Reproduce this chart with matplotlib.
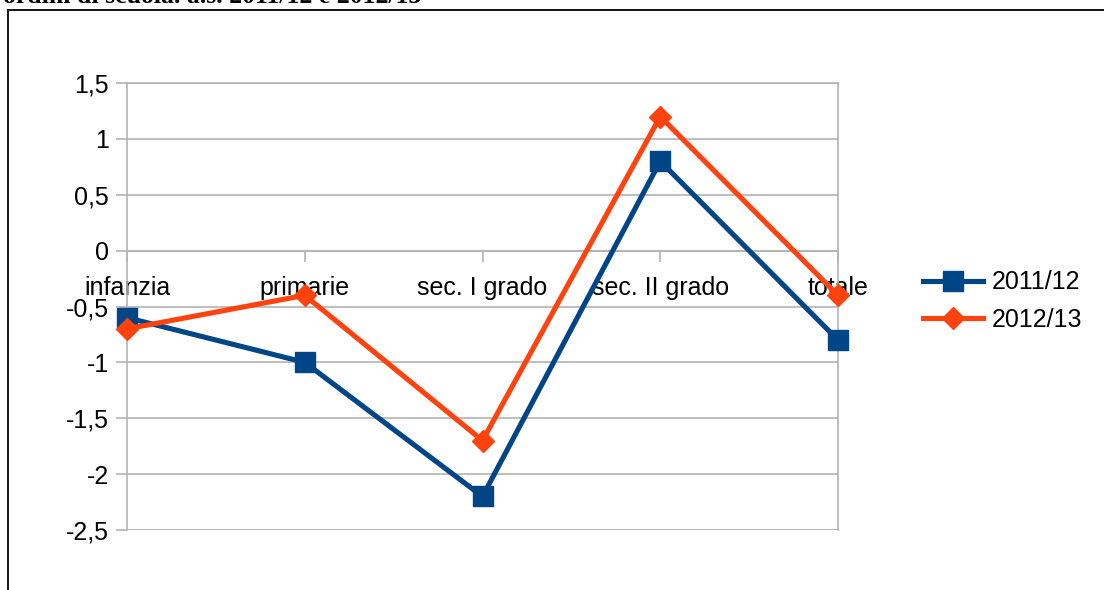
import matplotlib.pyplot as plt
from matplotlib.lines import Line2D
from matplotlib.ticker import FuncFormatter

plt.rcParams['font.family'] = ['Liberation Sans', 'DejaVu Sans']

categories = ["infanzia", "primarie", "sec. I grado", "sec. II grado", "totale"]
series_names = ["2011/12", "2012/13"]
values_2011 = [-0.6, -1.0, -2.2, 0.8, -0.8]
values_2012 = [-0.7, -0.4, -1.7, 1.2, -0.4]
y_ticks = [-2.5, -2, -1.5, -1, -0.5, 0, 0.5, 1, 1.5]

blue = "#004586"
orange = "#ff420e"
grid = "#b3b3b3"

fig = plt.figure(figsize=(11.04, 5.9), dpi=100)
ax = fig.add_axes([127 / 1104, 1 - 530 / 590, (838 - 127) / 1104, (530 - 83) / 590])

# cut-off caption of the page above the chart (only its lower edge shows)
cap = fig.add_axes([0, 1 - 4 / 590, 0.6, 4 / 590])
cap.axis("off")
cap.text(0.005, 0.2, "ordini di scuola. a.s. 2011/12 e 2012/13",
         family="Liberation Serif", weight="bold", fontsize=18.5,
         va="baseline", ha="left", transform=cap.transAxes, clip_on=True)

# outer frame (extends past right/bottom edges)
fig.add_artist(Line2D([8 / 1104, 1.01], [1 - 10 / 590] * 2, color="black", lw=1.3,
                      transform=fig.transFigure))
fig.add_artist(Line2D([8 / 1104] * 2, [-0.01, 1 - 10 / 590], color="black", lw=1.3,
                      transform=fig.transFigure))

x = range(len(categories))
ax.plot(x, values_2011, color=blue, lw=3.7, marker="s", ms=14, label=series_names[0],
        solid_joinstyle="miter", zorder=3, clip_on=False)
ax.plot(x, values_2012, color=orange, lw=3.7, marker="D", ms=11, label=series_names[1],
        solid_joinstyle="miter", zorder=4, clip_on=False)

ax.set_xlim(0, len(categories) - 1)
ax.set_ylim(-2.5, 1.5)
ax.set_yticks(y_ticks)
ax.yaxis.set_major_formatter(FuncFormatter(lambda v, p: f"{v:g}".replace(".", ",")))
ax.yaxis.grid(True, color=grid, lw=1.2)
ax.set_axisbelow(True)

for s in ["left", "right", "top"]:
    ax.spines[s].set_color(grid)
    ax.spines[s].set_linewidth(1.2)
ax.spines["bottom"].set_position(("data", 0))
ax.spines["bottom"].set_color(grid)
ax.spines["bottom"].set_linewidth(1.2)
# bottom frame line at -2.5
ax.axhline(-2.5, color=grid, lw=1.2, zorder=0)

ax.set_xticks(list(x))
ax.set_xticklabels(categories, fontsize=18)
ax.tick_params(axis="x", direction="out", length=8, color=grid, width=1.2, pad=10)
ax.tick_params(axis="y", direction="out", length=8, color=grid, width=1.2, labelsize=18, pad=5)
for lab in ax.get_xticklabels():
    lab.set_zorder(5)

leg = ax.legend(loc="center left", bbox_to_anchor=(1.12, 0.512), frameon=False,
                fontsize=18, handlelength=2.4, handletextpad=0.32, labelspacing=0.55,
                borderaxespad=0, borderpad=0)

fig.savefig("out.png", dpi=100)
